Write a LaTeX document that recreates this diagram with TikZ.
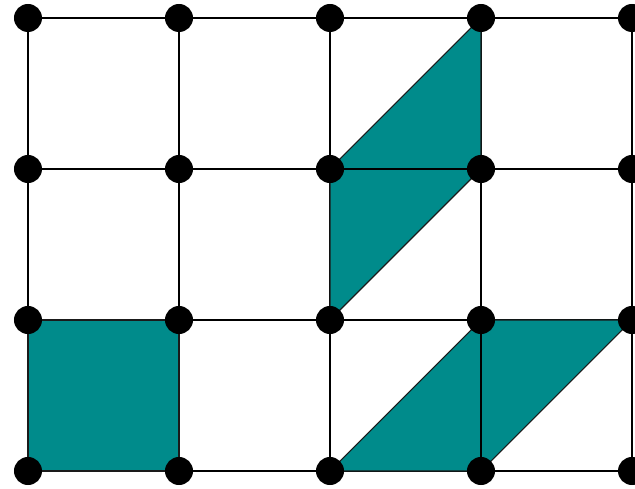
\documentclass[tikz,border=0pt]{standalone}
\usepackage{tikz}
\usetikzlibrary{positioning}
\definecolor{tealfill}{HTML}{008B8B}
\definecolor{edgegray}{HTML}{1A1A1A}

\begin{document}
\begin{tikzpicture}[x=2cm,y=2cm,
 gridline/.style={draw=black,line width=0.6pt},
 patch/.style={fill=tealfill,draw=edgegray,line width=0.4pt},
 dot/.style={circle,fill=black,inner sep=0pt,minimum size=0.371cm}]
\path[use as bounding box,clip] (-0.1854,-0.1126) rectangle (4.0199,3.1192);
% lattice points
\foreach \i in {0,...,4}
 \foreach \j in {0,...,3}
  \coordinate (c\i\j) at (\i,\j);
% grid
\foreach \j in {0,...,3}
 \draw[gridline] (c0\j) -- (c4\j);
\foreach \i in {0,...,4}
 \draw[gridline] (c\i0) -- (c\i3);
% shaded cells
\filldraw[patch] (c00) -- (c10) -- (c11) -- (c01) -- cycle;
\filldraw[patch] (c21) -- (c22) -- (c33) -- (c32) -- cycle;
\filldraw[patch] (c20) -- (c30) -- (c41) -- (c31) -- cycle;
\draw[gridline] (c22) -- (c32);
\draw[gridline] (c30) -- (c31);
% dots
\foreach \i in {0,...,4}
 \foreach \j in {0,...,3}
  \node[dot] (p\i\j) at (c\i\j) {};
\end{tikzpicture}
\end{document}
